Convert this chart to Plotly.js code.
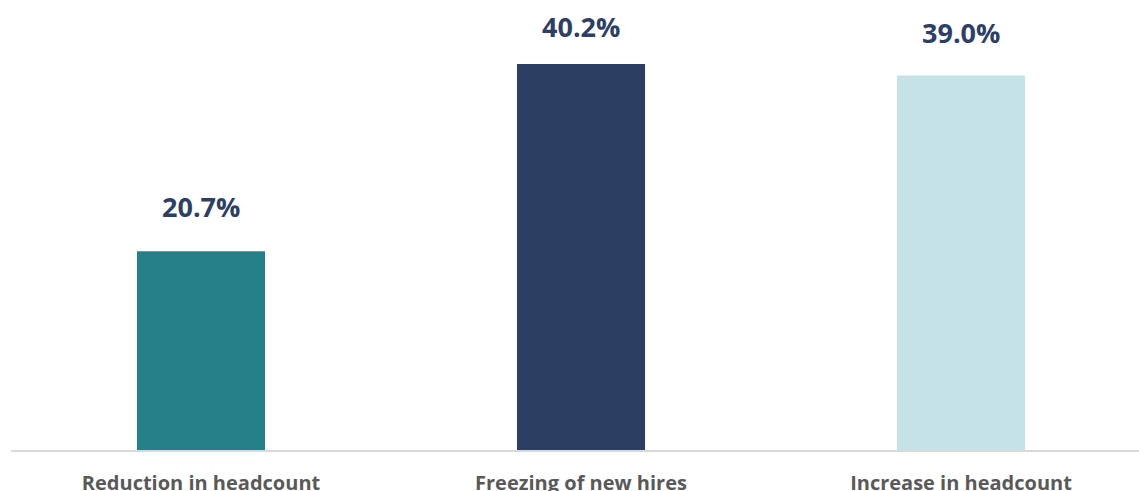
<!DOCTYPE html>
<html>
<head>
<meta charset="utf-8">
<script src="https://cdn.plot.ly/plotly-3.0.1.min.js"></script>
<style>html,body{margin:0;padding:0;background:#fff;}#chart{width:1139px;height:491px;}</style>
</head>
<body>
<div id="chart"></div>
<script>
const categories = ["Reduction in headcount", "Freezing of new hires", "Increase in headcount"];
const values = [20.7, 40.2, 39.0];
const valueLabels = ["20.7%", "40.2%", "39.0%"];

const barColors = ["#25808A", "#2D3E63", "#C5E2E6"];
const labelShift = [45, 38, 43];

const trace = {
  type: "bar",
  x: categories,
  y: values,
  width: 0.337,
  marker: { color: barColors },
  hoverinfo: "none"
};

const annotations = categories.map((c, i) => ({
  x: c, y: values[i], xref: "x", yref: "y",
  text: "<b>" + valueLabels[i] + "</b>",
  showarrow: false, yanchor: "middle", yshift: labelShift[i],
  font: { family: "Open Sans", size: 27, color: "#2E3F66" }
}));

const layout = {
  width: 1139, height: 491,
  margin: { l: 11, r: 0, t: 0, b: 41 },
  paper_bgcolor: "#ffffff", plot_bgcolor: "#ffffff",
  showlegend: false,
  xaxis: {
    type: "category",
    range: [-0.5, 2.4684],
    showline: true, linecolor: "#D9D9D9", linewidth: 2,
    showgrid: false, zeroline: false, ticks: "",
    ticklabelstandoff: 14,
    tickfont: { family: "Open Sans", size: 20, color: "#595959", weight: "bold" },
    fixedrange: true
  },
  yaxis: {
    range: [0, 46.875],
    visible: false, showgrid: false, zeroline: false, fixedrange: true
  },
  annotations: annotations
};

Plotly.newPlot("chart", [trace], layout, { staticPlot: true });
</script>
</body>
</html>
